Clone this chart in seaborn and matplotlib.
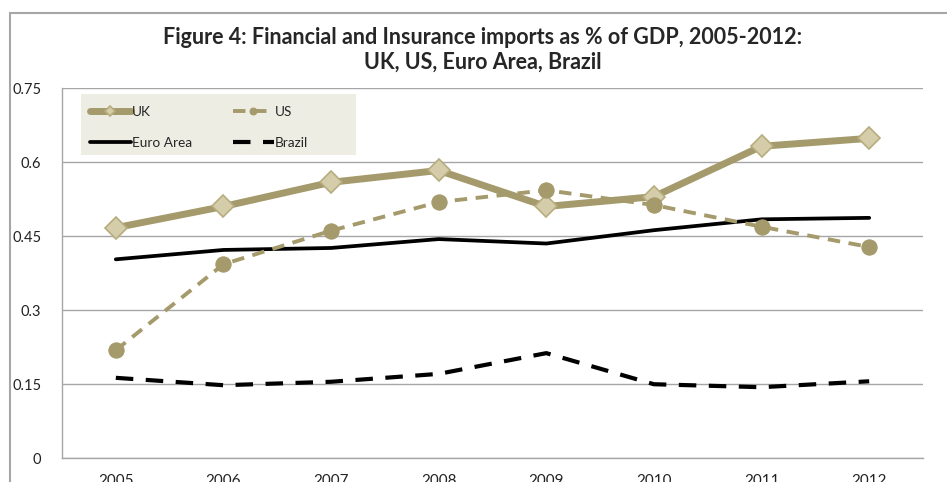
import numpy as np
import pandas as pd
import matplotlib
matplotlib.use("Agg")
import matplotlib.pyplot as plt
import seaborn as sns
from matplotlib.patches import Rectangle

years = ["2005", "2006", "2007", "2008", "2009", "2010", "2011", "2012"]
uk = [0.467, 0.510, 0.559, 0.583, 0.510, 0.530, 0.632, 0.648]
us = [0.219, 0.393, 0.461, 0.519, 0.543, 0.513, 0.469, 0.428]
euro_area = [0.403, 0.422, 0.426, 0.444, 0.435, 0.462, 0.484, 0.487]
brazil = [0.163, 0.148, 0.155, 0.171, 0.213, 0.150, 0.144, 0.156]
y_ticks = [0, 0.15, 0.3, 0.45, 0.6, 0.75]
y_tick_labels = ["0", "0.15", "0.3", "0.45", "0.6", "0.75"]

sns.set_theme(style="white")
plt.rcParams["font.family"] = ["Lato", "DejaVu Sans"]

W, H = 947, 482
fig = plt.figure(figsize=(W / 100, H / 100), dpi=100)
ax_left, ax_right, ax_top, ax_bottom = 62, 923, 88, 458.3
ax = fig.add_axes([ax_left / W, 1 - ax_bottom / H, (ax_right - ax_left) / W,
                   (ax_bottom - ax_top) / H])

x = np.arange(len(years))
khaki = "#A59A6B"
grey = "#A6A6A6"

sns.lineplot(x=x, y=uk, ax=ax, color=khaki, lw=5, marker="D", markersize=11,
             markerfacecolor="#D5CDA9", markeredgecolor="#B7AC7E", markeredgewidth=1.2,
             label="UK", zorder=3)
sns.lineplot(x=x, y=euro_area, ax=ax, color="black", lw=2.7, label="Euro Area", zorder=2)
sns.lineplot(x=x, y=us, ax=ax, color=khaki, lw=2.8, dashes=(3.2, 2.2), marker="o",
             markersize=11, markerfacecolor=khaki, markeredgecolor=khaki,
             label="US", zorder=4)
sns.lineplot(x=x, y=brazil, ax=ax, color="black", lw=3.0, dashes=(4.2, 3.0),
             label="Brazil", zorder=2)

ax.set_xlim(-0.5, len(years) - 0.5)
ax.set_ylim(0, 0.75)
ax.set_yticks(y_ticks)
ax.set_yticklabels(y_tick_labels)
ax.set_xticks(x)
ax.set_xticklabels(years)
ax.set_xticks(np.arange(-0.5, len(years), 1.0), minor=True)
ax.tick_params(axis="x", which="major", length=0, pad=11, labelsize=11, colors="#222222")
ax.tick_params(axis="x", which="minor", length=4, width=1, color=grey, direction="out")
ax.tick_params(axis="y", which="major", length=5, width=1, color=grey, direction="out",
               pad=10, labelsize=10.5, labelcolor="#222222")
ax.set_xlabel("")
ax.set_ylabel("")

ax.grid(axis="y", color=grey, lw=1)
ax.grid(axis="x", visible=False)
for side in ("top", "right"):
    ax.spines[side].set_visible(False)
for side in ("left", "bottom"):
    ax.spines[side].set_color(grey)
    ax.spines[side].set_linewidth(1)

# legend panel background (pixel box converted to axes fraction)
def to_axes(px, py):
    return ((px - ax_left) / (ax_right - ax_left), (ax_bottom - py) / (ax_bottom - ax_top))

x0, y0 = to_axes(81, 155)
x1, y1 = to_axes(356, 94)
ax.add_patch(Rectangle((x0, y0), x1 - x0, y1 - y0, transform=ax.transAxes,
                       facecolor="#EEEDE4", edgecolor="none", zorder=5))

leg = ax.legend(ncol=2, loc="upper left", bbox_to_anchor=to_axes(83, 99),
                borderaxespad=0, frameon=False, fontsize=9.8, handlelength=3.0,
                handletextpad=0.1, columnspacing=3.0, labelspacing=1.4, borderpad=0.5,
                markerscale=0.45)
leg.set_zorder(6)

fig.suptitle("Figure 4: Financial and Insurance imports as % of GDP, 2005-2012:\nUK, US, Euro Area, Brazil",
             x=483 / W, y=1 - 27 / H, va="top", fontsize=15.5, fontweight="bold",
             linespacing=1.2)

fig.patches.append(Rectangle((10 / W, -0.1), 1.2, 1.1 - 13 / H, transform=fig.transFigure,
                             fill=False, edgecolor=grey, lw=1.5))

fig.savefig("out.png", dpi=100)
